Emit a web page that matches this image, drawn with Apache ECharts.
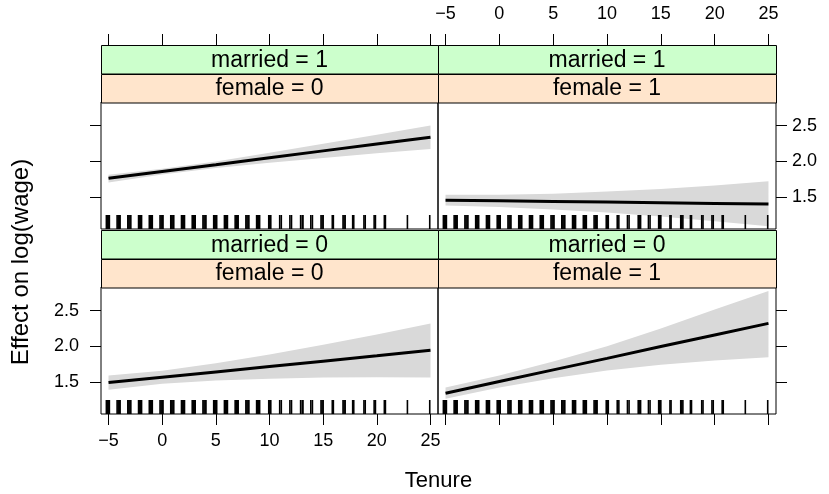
<!DOCTYPE html>
<html>
<head>
<meta charset="utf-8">
<script src="https://cdn.jsdelivr.net/npm/echarts@6/dist/echarts.min.js"></script>
<style>
  html, body { margin: 0; padding: 0; background: #fff; }
  #chart { width: 829px; height: 494px; }
</style>
</head>
<body>
<div id="chart"></div>
<script>
// tenure values where the effect is drawn
const tenureGrid = [-5, 0, 5, 10, 15, 20, 25]
const xTicks = [-5, 0, 5, 10, 15, 20, 25]
const yTicks = [1.5, 2.0, 2.5]

// married = 1, female = 0
const fitM1F0 = [1.76, 1.855, 1.95, 2.05, 2.145, 2.24, 2.335]
const lowM1F0 = [1.70, 1.815, 1.905, 1.98, 2.045, 2.11, 2.17]
const uppM1F0 = [1.81, 1.895, 1.995, 2.12, 2.245, 2.37, 2.50]
// married = 1, female = 1
const fitM1F1 = [1.453, 1.445, 1.436, 1.427, 1.418, 1.409, 1.40]
const lowM1F1 = [1.378, 1.36, 1.325, 1.28, 1.225, 1.16, 1.09]
const uppM1F1 = [1.53, 1.53, 1.545, 1.575, 1.61, 1.66, 1.72]
// married = 0, female = 0
const fitM0F0 = [1.49, 1.565, 1.64, 1.715, 1.79, 1.865, 1.943]
const lowM0F0 = [1.39, 1.475, 1.52, 1.545, 1.56, 1.565, 1.56]
const uppM0F0 = [1.59, 1.655, 1.76, 1.885, 2.02, 2.165, 2.32]
// married = 0, female = 1
const fitM0F1 = [1.342, 1.505, 1.668, 1.83, 1.995, 2.158, 2.32]
const lowM0F1 = [1.265, 1.42, 1.55, 1.66, 1.74, 1.80, 1.845]
const uppM0F1 = [1.42, 1.59, 1.785, 2.0, 2.25, 2.515, 2.775]

// observed tenure (jittered) for the rug
const rugTenure = [
  -5.2, -5.1, -5.0, -4.92, -4.2, -4.1, -4.0, -3.92,
  -3.2, -3.1, -3.0, -2.92, -2.2, -2.1, -2.0, -1.92,
  -1.2, -1.1, -1.0, -0.92, -0.2, -0.1, 0.0, 0.08,
  0.8, 0.9, 1.0, 1.08, 1.8, 1.9, 2.0, 2.08,
  2.8, 2.9, 3.0, 3.08, 3.8, 3.9, 4.0, 4.08,
  4.8, 4.9, 5.0, 5.08, 5.8, 5.9, 6.0, 6.08,
  6.8, 6.9, 7.0, 7.08, 7.8, 7.9, 8.0, 8.08,
  8.8, 8.9, 9.0, 9.08,
  9.93, 10.03, 10.12, 10.95, 11.1, 11.9, 12.05,
  12.9, 13.05, 13.12, 13.85, 14.0, 14.8, 14.9, 15.0,
  15.85, 15.95, 16.85, 16.95, 17.05, 17.75, 17.85,
  18.8, 18.92, 19.75, 19.87, 20.7, 20.8, 22.85, 24.93
]

const panels = [
  { married: 1, female: 0, fit: fitM1F0, low: lowM1F0, upp: uppM1F0 },
  { married: 1, female: 1, fit: fitM1F1, low: lowM1F1, upp: uppM1F1 },
  { married: 0, female: 0, fit: fitM0F0, low: lowM0F0, upp: uppM0F0 },
  { married: 0, female: 1, fit: fitM0F1, low: lowM0F1, upp: uppM0F1 }
]

const FONT = "Liberation Sans, Arial, Helvetica, sans-serif"
const X_MIN = -5.7, X_MAX = 25.7
const Y_MIN = 1.05, Y_MAX = 2.83

/* panel boxes: [left, top, width, height] */
const boxes = [
  [101, 102, 337, 127],
  [438, 102, 338, 127],
  [101, 287, 337, 127],
  [438, 287, 338, 127]
]
const STRIP_H = 28.5

const chart = echarts.init(document.getElementById("chart"), null, { renderer: "canvas" })

const grid = boxes.map((b) => ({
  left: b[0], top: b[1], width: b[2], height: b[3],
  show: true, borderColor: "#000", borderWidth: 1, backgroundColor: "transparent"
}))

// which panels show tick labels
const xLabelOn = [false, true, true, false]
const yLabelOn = [false, true, true, false]

const xAxis = boxes.map((b, i) => ({
  type: "value", gridIndex: i, min: X_MIN, max: X_MAX,
  position: i < 2 ? "top" : "bottom",
  offset: i < 2 ? 2 * STRIP_H : 0,
  axisLine: { show: false, onZero: false },
  splitLine: { show: false },
  axisTick: { show: true, inside: false, length: 11, customValues: xTicks,
    lineStyle: { color: "#000", width: 1 } },
  axisLabel: { show: xLabelOn[i], customValues: xTicks, margin: i < 2 ? 22 : 18,
    color: "#000", fontFamily: FONT, fontSize: 18,
    formatter: (v) => String(v).replace("-", "\u2212") }
}))

const yAxis = boxes.map((b, i) => ({
  type: "value", gridIndex: i, min: Y_MIN, max: Y_MAX,
  position: i % 2 === 0 ? "left" : "right",
  axisLine: { show: false, onZero: false },
  splitLine: { show: false },
  axisTick: { show: true, inside: false, length: 11, customValues: yTicks,
    lineStyle: { color: "#000", width: 1 } },
  axisLabel: { show: yLabelOn[i], customValues: yTicks, margin: i % 2 === 0 ? 22 : 16,
    color: "#000", fontFamily: FONT, fontSize: 18,
    formatter: (v) => v.toFixed(1) }
}))

const series = []
panels.forEach((p, i) => {
  // confidence band as one polygon
  series.push({
    type: "custom", xAxisIndex: i, yAxisIndex: i, silent: true, z: 1,
    data: [[tenureGrid[0], p.low[0]]],
    renderItem: (params, api) => {
      const pts = []
      tenureGrid.forEach((x, k) => pts.push(api.coord([x, p.upp[k]])))
      for (let k = tenureGrid.length - 1; k >= 0; k--) {
        pts.push(api.coord([tenureGrid[k], p.low[k]]))
      }
      return { type: "polygon", shape: { points: pts }, style: { fill: "#d9d9d9" } }
    }
  })
  series.push({
    type: "line", xAxisIndex: i, yAxisIndex: i, z: 3,
    data: tenureGrid.map((x, k) => [x, p.fit[k]]),
    symbol: "none", silent: true,
    lineStyle: { color: "#000", width: 3 }
  })
  // rug along the bottom of the panel
  series.push({
    type: "custom", xAxisIndex: i, yAxisIndex: i, silent: true, z: 2,
    data: rugTenure.map((x) => [x, Y_MIN]),
    renderItem: (params, api) => {
      const pt = api.coord([api.value(0), api.value(1)])
      return {
        type: "rect",
        shape: { x: pt[0] - 0.8, y: pt[1] - 14, width: 1.6, height: 14 },
        style: { fill: "#000" }
      }
    }
  })
})

// strips above each panel
const graphic = []
panels.forEach((p, i) => {
  const b = boxes[i]
  const rows = [
    { label: "married = " + p.married, fill: "#ccffcc", y: b[1] - 2 * STRIP_H },
    { label: "female = " + p.female, fill: "#ffe5cc", y: b[1] - STRIP_H }
  ]
  rows.forEach((r) => {
    graphic.push({
      type: "rect", silent: true,
      shape: { x: b[0] + 0.5, y: Math.round(r.y) + 0.5, width: b[2], height: STRIP_H },
      style: { fill: r.fill, stroke: "#000", lineWidth: 1 }
    })
    graphic.push({
      type: "text", silent: true,
      style: { text: r.label, x: b[0] + b[2] / 2, y: r.y + STRIP_H / 2 + 1,
        align: "center", verticalAlign: "middle", font: "23px " + FONT, fill: "#000" }
    })
  })
})
graphic.push({
  type: "text", silent: true,
  style: { text: "Tenure", x: 438.5, y: 481, align: "center", verticalAlign: "middle",
    font: "22px " + FONT, fill: "#000" }
})
graphic.push({
  type: "text", silent: true, x: 21, y: 262, rotation: Math.PI / 2,
  style: { text: "Effect on log(wage)", x: 0, y: 0, align: "center", verticalAlign: "middle",
    font: "24px " + FONT, fill: "#000" }
})

chart.setOption({
  animation: false,
  backgroundColor: "#fff",
  grid: grid,
  xAxis: xAxis,
  yAxis: yAxis,
  series: series,
  graphic: graphic
})
</script>
</body>
</html>
